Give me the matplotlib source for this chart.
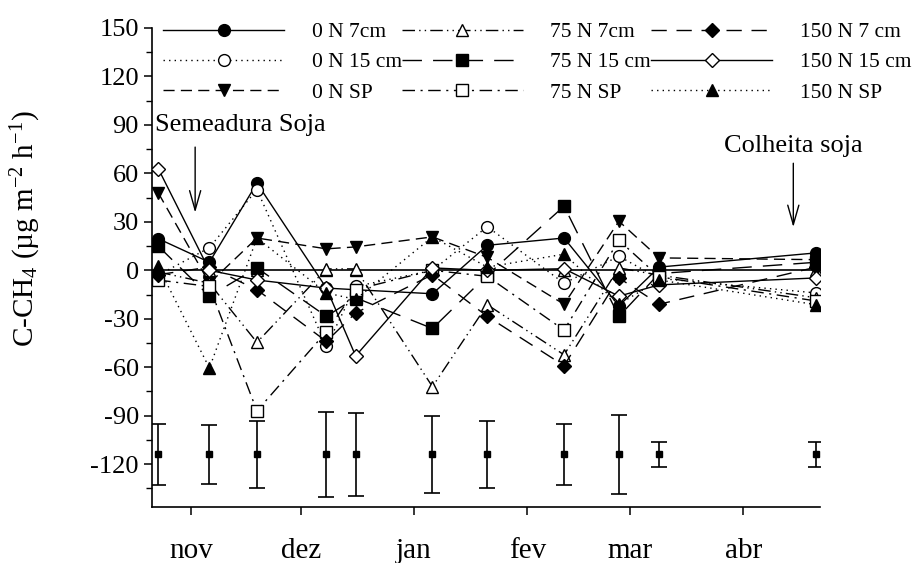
import matplotlib
matplotlib.use("Agg")
import matplotlib.pyplot as plt
from matplotlib.ticker import MultipleLocator, FixedLocator

plt.rcParams['font.family'] = ['Liberation Serif', 'DejaVu Serif']
plt.rcParams['mathtext.fontset'] = 'custom'
plt.rcParams['mathtext.rm'] = 'Liberation Serif'
plt.rcParams['mathtext.it'] = 'Liberation Serif:italic'
plt.rcParams['axes.unicode_minus'] = False

# Sampling days, counted from 1 November
days = [-9, 5, 18, 37, 45, 66, 81, 102, 117, 128, 171]

# Month axis (day of season at the first of each month)
month_days = [0, 30, 61, 92, 120, 151]
month_labels = ['nov', 'dez', 'jan', 'fev', 'mar', 'abr']

# C-CH4 flux per treatment (ug m-2 h-1)
n0_7 = [19.6, 5, 54, -11, -12, -14.5, 15.5, 20, -22, 2, 10.8]
n0_15 = [-3, 14, 50, -47, -10, 0, 27, -8, 8.7, -5, -14]
n0_sp = [48, -8, 20, 13.3, 14.5, 20.7, 8, -21, 30.4, 7.7, 6.6]
n75_7 = [-1, -8, -44.6, 0.9, 0.9, -72, -21.3, -52.3, 1.5, -3, -17]
n75_15 = [15, -16, 1.5, -28.5, -17, -36, -3, 39.7, -28.5, -2, 5]
n75_sp = [-6, -10, -87, -38, -12, 0, -3.7, -37, 18.6, -4, -19]
n150_7 = [-2.7, 2, -12, -44, -26.4, -2.7, -28.5, -59, -4.7, -21, 2]
n150_15 = [63, 0, -6, -11, -53, 1.5, 0, 1, -16, -9, -4.7]
n150_sp = [2.5, -60.5, 20, -14, -18, 20.7, 2, 10, -21, -6, -21.3]

# Zero reference drawn at every sampling day
zero_ref = [0] * len(days)

labels = ['0 N 7cm', '0 N 15 cm', '0 N SP',
          '75 N 7cm', '75 N 15 cm', '75 N SP',
          '150 N 7 cm', '150 N 15 cm', '150 N SP']
series = [n0_7, n0_15, n0_sp, n75_7, n75_15, n75_sp, n150_7, n150_15, n150_sp]

# Least significant difference bars drawn below the curves
err_center = [-114] * len(days)
err_half = [19, 18, 20.5, 26.5, 25.5, 24, 20.5, 19, 24.5, 8, 8]

styles = [
    dict(ls='-', marker='o', mfc='black'),
    dict(ls=(0, (1, 3)), marker='o', mfc='white'),
    dict(ls=(0, (8, 4.5)), marker='v', mfc='black'),
    dict(ls=(0, (9, 3, 1, 3, 1, 3)), marker='^', mfc='white'),
    dict(ls=(0, (14, 8)), marker='s', mfc='black'),
    dict(ls=(0, (9, 4, 1.5, 4)), marker='s', mfc='white'),
    dict(ls=(0, (11, 7)), marker='D', mfc='black'),
    dict(ls='-', marker='D', mfc='white'),
    dict(ls=(0, (1, 3)), marker='^', mfc='black'),
]

fig = plt.figure(figsize=(9.22, 5.63), dpi=100)
ax = fig.add_axes([152 / 922, 1 - 507 / 563, (820 - 152) / 922, (507 - 28) / 563])

ax.axhline(0, color='black', lw=1.2, zorder=1)
ax.plot(days, zero_ref, ls='none', marker='^', mfc='white', mec='black',
        mew=1.0, ms=8.5, zorder=2)

handles = []
for vals, lab, st in zip(series, labels, styles):
    ms = 7 if st['marker'] == 'D' else 8.5
    h, = ax.plot(days, vals, color='black', lw=1.0, ls=st['ls'],
                 marker=st['marker'], mfc=st['mfc'], mec='black',
                 mew=1.0, ms=ms, label=lab, zorder=3)
    handles.append(h)

ax.errorbar(days, err_center, yerr=err_half, fmt='s', color='black',
            ms=4.5, capsize=6, elinewidth=1.2, capthick=1.2, zorder=3)

ax.set_xlim(-10.7, 172)
ax.set_ylim(-146.5, 150)

ax.xaxis.set_major_locator(FixedLocator(month_days))
ax.set_xticklabels(month_labels)
ax.set_yticks(range(-120, 151, 30))
ax.yaxis.set_minor_locator(MultipleLocator(15))

ax.tick_params(axis='both', which='major', labelsize=19, direction='out',
               length=6, width=1.1, color='black')
ax.tick_params(axis='x', labelsize=21, pad=16)
ax.tick_params(axis='y', which='minor', direction='out', length=4, width=1.0)

for side in ('top', 'right'):
    ax.spines[side].set_visible(False)
for side in ('left', 'bottom'):
    ax.spines[side].set_linewidth(1.2)

ax.set_ylabel('C-CH$_4$ (µg m$^{-2}$ h$^{-1}$)', fontsize=21)
ax.yaxis.set_label_coords(-0.163, 0.58)

# Field operations
ax.annotate('', xy=(1.1, 34), xytext=(1.1, 78),
            arrowprops=dict(arrowstyle='->,head_length=1.4,head_width=0.4',
                            color='black', lw=1.0))
ax.text(-10.0, 90, 'Semeadura Soja', fontsize=19, va='center', ha='left')
ax.annotate('', xy=(164.7, 25), xytext=(164.7, 68),
            arrowprops=dict(arrowstyle='->,head_length=1.4,head_width=0.4',
                            color='black', lw=1.0))
ax.text(164.7, 77, 'Colheita soja', fontsize=19, va='center', ha='center')

leg = ax.legend(handles=handles, ncol=3, loc='upper left',
                bbox_to_anchor=(0.004, 1.03), frameon=False, fontsize=15.5,
                handlelength=5.6, handletextpad=1.3, columnspacing=0.0,
                labelspacing=0.47, numpoints=1, borderaxespad=0)

fig.savefig('out.png', dpi=100)
